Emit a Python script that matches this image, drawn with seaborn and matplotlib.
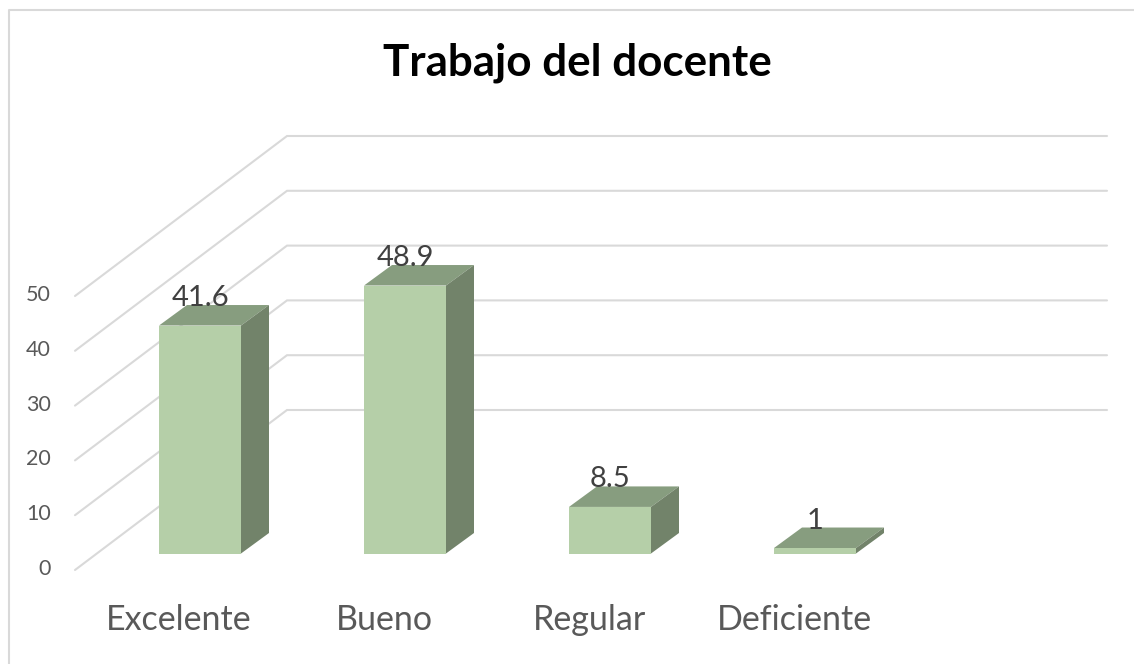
import matplotlib
matplotlib.use("Agg")
import matplotlib.pyplot as plt
from matplotlib.lines import Line2D
from matplotlib.patches import Polygon
import pandas as pd
import seaborn as sns

categories = ["Excelente", "Bueno", "Regular", "Deficiente"]
values = [41.6, 48.9, 8.5, 1]
value_labels = ["41.6", "48.9", "8.5", "1"]
y_ticks = [0, 10, 20, 30, 40, 50]

W, H = 1134, 664
X0, SPAN = 200.0, 205.0   # pixel x of first bar centre, pixels between bars
Y0, UNIT = 553.5, 5.48    # pixel y of value 0, pixels per unit
BAR_W = 82 / SPAN
DX, DY = 28 / SPAN, 20.5 / UNIT   # depth of a bar
GRID_COLOR = "#d9d9d9"
TEXT_COLOR = "#595959"


def grid_lines(ax):
    # wall: from the front left edge to the back corner, then along the back
    left = (75 - X0) / SPAN
    corner = (287 - X0) / SPAN
    right = (1107 - X0) / SPAN
    front_y = (Y0 - 570) / UNIT
    back_y = (Y0 - 410) / UNIT
    for v in y_ticks:
        ax.plot([left, corner, right], [front_y + v, back_y + v, back_y + v],
                color=GRID_COLOR, lw=1.5, zorder=1, solid_joinstyle="miter")


def bar_depth(ax, bar):
    x0, w, h = bar.get_x(), bar.get_width(), bar.get_height()
    x1 = x0 + w
    top = Polygon([(x0, h), (x1, h), (x1 + DX, h + DY), (x0 + DX, h + DY)],
                  facecolor="#879d7f", edgecolor="none", zorder=3)
    side = Polygon([(x1, 0), (x1 + DX, DY), (x1 + DX, h + DY), (x1, h)],
                   facecolor="#72836a", edgecolor="none", zorder=3)
    ax.add_patch(top)
    ax.add_patch(side)


def main():
    sns.set_theme(style="white")
    plt.rcParams["font.family"] = ["Lato", "DejaVu Sans"]
    df = pd.DataFrame({"categoria": categories, "valor": values})

    fig = plt.figure(figsize=(W / 100, H / 100), dpi=100, facecolor="white")
    ax = fig.add_axes([0, 0, 1, 1])
    sns.barplot(data=df, x="categoria", y="valor", ax=ax, color="#b5cfa8",
                saturation=1, width=BAR_W, zorder=4, linewidth=0, edgecolor="none")
    ax.set_xlim((0 - X0) / SPAN, (W - X0) / SPAN)
    ax.set_ylim((Y0 - H) / UNIT, Y0 / UNIT)
    ax.axis("off")

    grid_lines(ax)
    for bar in ax.patches[:len(values)]:
        bar_depth(ax, bar)

    # chart frame, only left and top are inside the crop
    fig.add_artist(Line2D([8.5 / W, 8.5 / W, 1], [0, 1 - 9.5 / H, 1 - 9.5 / H],
                          transform=fig.transFigure, color=GRID_COLOR, lw=1.5))

    for i, (v, lab) in enumerate(zip(values, value_labels)):
        ax.text(i, v + 27.5 / UNIT, lab, ha="center", va="center",
                fontsize=21, color="#404040", zorder=5)
        ax.text(i - 21 / SPAN, (Y0 - 620) / UNIT, categories[i], ha="center",
                va="center", fontsize=24.5, color=TEXT_COLOR, zorder=5)
    for v in y_ticks:
        ax.text((51 - X0) / SPAN, (Y0 - 569) / UNIT + v, str(v), ha="right",
                va="center", fontsize=15.5, color=TEXT_COLOR)

    ax.text((577 - X0) / SPAN, (Y0 - 63) / UNIT, "Trabajo del docente", ha="center",
            va="center", fontsize=31.7, fontweight="bold", color="black")

    fig.savefig("out.png", dpi=100, facecolor="white")


if __name__ == '__main__':
    main()
